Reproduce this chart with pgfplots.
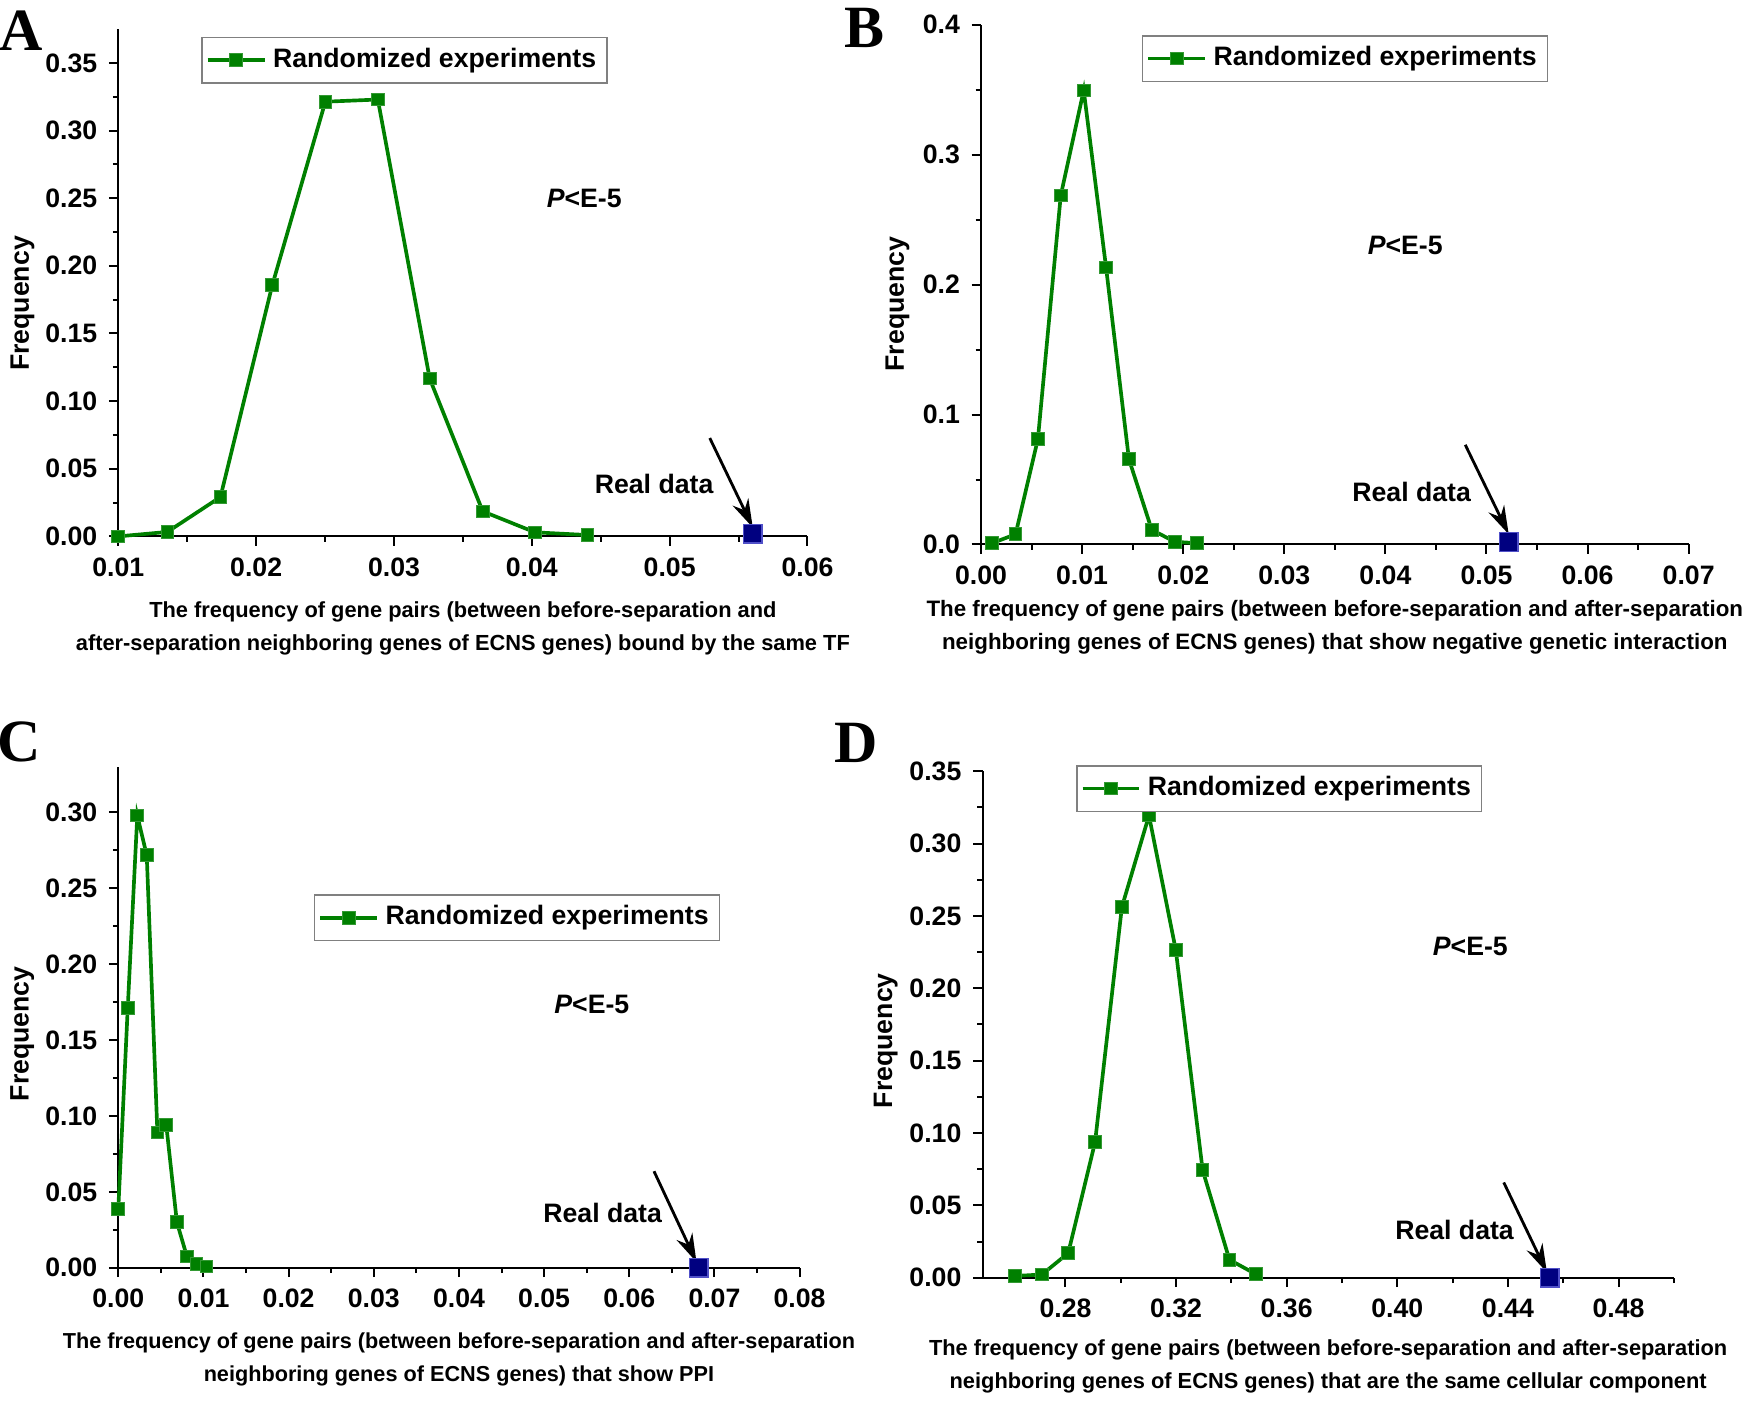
\documentclass[border=0pt]{standalone}
\usepackage{fontspec}
\setmainfont{Liberation Sans}
\newfontfamily\serifbf{Liberation Serif}
\usepackage{pgfplots}
\pgfplotsset{compat=1.18}
\usetikzlibrary{arrows.meta}
\definecolor{ogreen}{RGB}{0,128,0}
\definecolor{onavy}{RGB}{0,0,128}
\definecolor{oedge}{RGB}{80,80,200}
\newcommand{\lblfont}{\bfseries\fontsize{8}{9.6}\selectfont}
\newcommand{\xlfont}[1]{\bfseries\fontsize{#1}{9.8}\selectfont}
\tikzset{arr/.style={black, line width=0.85pt, -{Stealth[length=8.5pt, width=5.2pt]}}}
\pgfplotsset{
  /pgf/number format/assume math mode=true,
  panel/.style={
    scale only axis, clip=false, enlargelimits=false,
    axis x line=bottom, axis y line=left,
    axis line style={-, line width=0.6pt, black},
    xtick pos=left, ytick pos=left,
    tick align=outside,
    every tick/.style={black, line width=0.6pt},
    major tick length=2.8pt, minor tick length=1.6pt,
    minor tick num=1,
    scaled x ticks=false, scaled y ticks=false,
    tick label style={font=\lblfont, black},
    xticklabel style={/pgf/number format/fixed, /pgf/number format/fixed zerofill, /pgf/number format/precision=2},
    yticklabel style={/pgf/number format/fixed, /pgf/number format/fixed zerofill, /pgf/number format/precision=2},
    ylabel={Frequency},
    ylabel style={font=\lblfont, anchor=center},
    xlabel style={align=center, anchor=center},
    legend cell align=left,
    legend style={anchor=north west, draw=gray, line width=0.5pt, font=\lblfont, inner sep=1.2pt, fill=white},
  },
  rand/.style={ogreen, line width=1.1pt, mark=square*, mark size=1.9pt,
    mark options={solid, fill=ogreen, draw=ogreen!80!white, line width=0.3pt}},
  real/.style={only marks, mark=square*, mark size=2.8pt,
    mark options={fill=onavy, draw=oedge, line width=0.4pt}},
}
\begin{document}
\begin{tikzpicture}
\path[use as bounding box] (0,0) rectangle (525pt,420.6pt);

% ---------- A ----------
\begin{axis}[panel,
  at={(35.49pt,259.68pt)}, anchor=south west,
  width=206.76pt, height=152.2pt,
  xmin=0.01, xmax=0.06, ymin=0, ymax=0.375,
  xtick={0.01,0.02,0.03,0.04,0.05,0.06},
  ytick={0,0.05,0.1,0.15,0.2,0.25,0.3,0.35},
  ylabel style={at={(axis description cs:-0.139,0.459)}},
  xlabel={The frequency of gene pairs (between before-separation and\\after-separation neighboring genes of ECNS genes) bound by the same TF},
  xlabel style={font=\xlfont{6.55}, at={(axis description cs:0.5,-0.181)}},
  legend style={at={(0.12,0.985)}},
]
\addplot[rand] coordinates {(0.01,0.0) (0.01356,0.0033) (0.01741,0.0291) (0.02117,0.1857) (0.02502,0.3213) (0.02883,0.3229) (0.03259,0.1167) (0.03644,0.0185) (0.04024,0.003) (0.04405,0.001)};
\addlegendentry{Randomized experiments}
\addplot[real, forget plot] coordinates {(0.05603,0.002)};
\draw[arr] (axis cs:0.05291,0.0727) -- (axis cs:0.05603,0.0066);
\node[font=\lblfont] at (axis cs:0.04887,0.039) {Real data};
\node[font=\lblfont] at (axis cs:0.0438,0.2495) {\textit{P}<E-5};
\end{axis}

% ---------- B ----------
\begin{axis}[panel,
  at={(294.3pt,257.25pt)}, anchor=south west,
  width=212.3pt, height=155.97pt,
  xmin=0, xmax=0.07, ymin=0, ymax=0.4,
  xtick={0,0.01,0.02,0.03,0.04,0.05,0.06,0.07},
  ytick={0,0.1,0.2,0.3,0.4},
  yticklabel style={/pgf/number format/precision=1},
  ylabel style={at={(axis description cs:-0.118,0.4626)}},
  xlabel={The frequency of gene pairs (between before-separation and after-separation\\neighboring genes of ECNS genes) that show negative genetic interaction},
  xlabel style={font=\xlfont{6.7}, at={(axis description cs:0.5,-0.1587)}},
  legend style={at={(0.227,0.980)}},
]
\addplot[rand] coordinates {(0.0011,0.001) (0.00342,0.0079) (0.00563,0.0812) (0.00789,0.2686) (0.01016,0.3494) (0.01237,0.2132) (0.01463,0.0657) (0.01689,0.0113) (0.01916,0.0021) (0.02136,0.001)};
\addlegendentry{Randomized experiments}
\addplot[real, forget plot] coordinates {(0.0522,0.002)};
\draw[arr] (axis cs:0.0479,0.0767) -- (axis cs:0.0522,0.0079);
\node[font=\lblfont] at (axis cs:0.0426,0.0406) {Real data};
\node[font=\lblfont] at (axis cs:0.04196,0.2298) {\textit{P}<E-5};
\end{axis}

% ---------- C ----------
\begin{axis}[panel,
  at={(35.49pt,40.26pt)}, anchor=south west,
  width=204.4pt, height=150.3pt,
  xmin=0, xmax=0.08, ymin=0, ymax=0.33,
  xtick={0,0.01,0.02,0.03,0.04,0.05,0.06,0.07,0.08},
  ytick={0,0.05,0.1,0.15,0.2,0.25,0.3},
  ylabel style={at={(axis description cs:-0.1409,0.467)}},
  xlabel={The frequency of gene pairs (between before-separation and after-separation\\neighboring genes of ECNS genes) that show PPI},
  xlabel style={font=\xlfont{6.5}, at={(axis description cs:0.5,-0.1834)}},
  legend style={at={(0.2866,0.746)}},
]
\addplot[rand] coordinates {(0.0,0.0389) (0.00111,0.1713) (0.00223,0.2979) (0.00334,0.2717) (0.00459,0.0892) (0.00563,0.0942) (0.00688,0.0300) (0.00806,0.0074) (0.00917,0.0024) (0.01035,0.0009)};
\addlegendentry{Randomized experiments}
\addplot[real, forget plot] coordinates {(0.06814,0.0)};
\draw[arr] (axis cs:0.0629,0.0636) -- (axis cs:0.06789,0.0038);
\node[font=\lblfont] at (axis cs:0.05687,0.0362) {Real data};
\node[font=\lblfont] at (axis cs:0.0556,0.1737) {\textit{P}<E-5};
\end{axis}

% ---------- D ----------
\begin{axis}[panel,
  at={(294.75pt,37.29pt)}, anchor=south west,
  width=207.4pt, height=151.95pt,
  xmin=0.25, xmax=0.5, ymin=0, ymax=0.35,
  xtick={0.28,0.32,0.36,0.40,0.44,0.48},
  minor xtick={0.26,0.30,0.34,0.38,0.42,0.46,0.50},
  ytick={0,0.05,0.1,0.15,0.2,0.25,0.3,0.35},
  ylabel style={at={(axis description cs:-0.14,0.468)}},
  xlabel={The frequency of gene pairs (between before-separation and after-separation\\neighboring genes of ECNS genes) that are the same cellular component},
  xlabel style={font=\xlfont{6.55}, at={(axis description cs:0.5,-0.1755)}},
  legend style={at={(0.135,1.0124)}},
]
\addplot[rand] coordinates {(0.2618,0.0012) (0.2715,0.0022) (0.2810,0.0170) (0.2907,0.0936) (0.3004,0.2561) (0.3102,0.3194) (0.3199,0.2264) (0.3296,0.0744) (0.3393,0.0124) (0.3488,0.0025)};
\addlegendentry{Randomized experiments}
\addplot[real, forget plot] coordinates {(0.4551,0.0)};
\draw[arr] (axis cs:0.4385,0.0658) -- (axis cs:0.4541,0.0037);
\node[font=\lblfont] at (axis cs:0.4207,0.0331) {Real data};
\node[font=\lblfont] at (axis cs:0.4264,0.2292) {\textit{P}<E-5};
\end{axis}

% panel letters
\node[font=\serifbf\bfseries\fontsize{18}{20}\selectfont, inner sep=0pt] at (6.3pt,411.3pt) {A};
\node[font=\serifbf\bfseries\fontsize{18}{20}\selectfont, inner sep=0pt] at (259.5pt,412.2pt) {B};
\node[font=\serifbf\bfseries\fontsize{18}{20}\selectfont, inner sep=0pt] at (5.85pt,198pt) {C};
\node[font=\serifbf\bfseries\fontsize{18}{20}\selectfont, inner sep=0pt] at (256.8pt,197.7pt) {D};
\end{tikzpicture}
\end{document}
